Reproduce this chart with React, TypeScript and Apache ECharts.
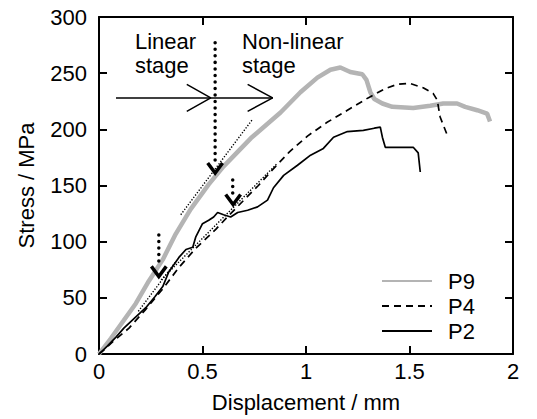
import React, { useEffect, useRef } from "react";
import * as echarts from "echarts";

const xTicks = [0, 0.5, 1, 1.5, 2];
const yTicks = [0, 50, 100, 150, 200, 250, 300];
const seriesNames = ["P9", "P4", "P2"];

// Displacement (mm), Stress (MPa)
const p9: number[][] = [
  [0, 0], [0.058, 14], [0.12, 30], [0.178, 45], [0.241, 65], [0.308, 84], [0.371, 107],
  [0.443, 129], [0.53, 151], [0.602, 167], [0.733, 192], [0.877, 215], [0.973, 233],
  [1.055, 246], [1.118, 253], [1.166, 255], [1.214, 251], [1.272, 249], [1.292, 244],
  [1.311, 233], [1.33, 227], [1.369, 223], [1.417, 220], [1.518, 219], [1.6, 221],
  [1.663, 223], [1.73, 223], [1.769, 220], [1.827, 217], [1.875, 214], [1.889, 207],
];

const p4: number[][] = [
  [0, 0], [0.02, 3], [0.067, 11], [0.145, 23], [0.227, 40], [0.308, 58], [0.386, 77],
  [0.467, 94], [0.564, 111], [0.636, 125], [0.7, 137], [0.77, 150], [0.843, 165],
  [0.92, 180], [1.007, 194], [1.1, 206], [1.2, 217], [1.3, 228], [1.38, 236], [1.44, 240],
  [1.5, 241], [1.566, 237], [1.614, 232], [1.634, 226], [1.648, 211], [1.682, 195],
];

const p2: number[][] = [
  [0, 0], [0.04, 7], [0.082, 15], [0.12, 23], [0.178, 33], [0.23, 42], [0.27, 51],
  [0.308, 60], [0.337, 73], [0.386, 86], [0.42, 93], [0.453, 95], [0.467, 104],
  [0.5, 116], [0.53, 119], [0.554, 122], [0.573, 126], [0.602, 124], [0.636, 122],
  [0.67, 126], [0.718, 128], [0.766, 131], [0.814, 137], [0.843, 148], [0.892, 159],
  [0.959, 168], [1.022, 177], [1.084, 183], [1.133, 193], [1.2, 198], [1.277, 199],
  [1.33, 201], [1.359, 202], [1.369, 193], [1.383, 184], [1.441, 184], [1.518, 184],
  [1.542, 179], [1.552, 162],
];

// Annotations (data coordinates)
const fitLines: number[][][] = [
  [[0.395, 124], [0.742, 209]],
  [[0.3, 66], [0.863, 170]],
  [[0.19, 38], [0.37, 82]],
];
const stageArrow: number[][] = [[0.082, 228], [0.839, 228]];
const stageArrowHeads: number[][][] = [
  [[0.424, 240], [0.54, 228], [0.424, 216]],
  [[0.718, 240], [0.839, 228], [0.718, 216]],
];
const dotShafts: number[][][] = [
  [[0.561, 277], [0.561, 168]],
  [[0.646, 155], [0.646, 143]],
  [[0.289, 106], [0.289, 80]],
];
const dotHeads: number[][][] = [
  [[0.525, 170], [0.561, 161], [0.597, 170]],
  [[0.612, 142], [0.648, 133], [0.684, 142]],
  [[0.253, 78], [0.289, 69], [0.325, 78]],
];

const FONT = "'Liberation Sans', Arial, Helvetica, sans-serif";
const FS = 22;

export default function App() {
  const ref = useRef<HTMLDivElement>(null);
  useEffect(() => {
    document.body.style.margin = "0";
    if (!ref.current) return;
    const chart = echarts.init(ref.current, undefined, { renderer: "svg" });
    const axisLine = { show: true, onZero: false, lineStyle: { color: "#000", width: 2 } };
    const axisTick = { show: true, inside: true, length: 8, lineStyle: { color: "#000", width: 2 } };
    const xBase = {
      type: "value" as const,
      min: xTicks[0],
      max: xTicks[xTicks.length - 1],
      interval: xTicks[1] - xTicks[0],
      axisLine,
      axisTick,
      splitLine: { show: false },
    };
    const yBase = {
      type: "value" as const,
      min: yTicks[0],
      max: yTicks[yTicks.length - 1],
      interval: yTicks[1] - yTicks[0],
      axisLine,
      axisTick,
      splitLine: { show: false },
    };
    const annot = (data: number[][], lineStyle: any) => ({
      type: "line",
      data,
      symbol: "none",
      silent: true,
      z: 5,
      lineStyle,
    });
    const series: any[] = [
      {
        name: seriesNames[0], type: "line", data: p9, symbol: "none",
        lineStyle: { color: "#b4b4b4", width: 4.5 }, itemStyle: { color: "#b4b4b4" }, z: 2,
      },
      {
        name: seriesNames[1], type: "line", data: p4, symbol: "none",
        lineStyle: { color: "#000", width: 1.7, type: [7, 5] }, itemStyle: { color: "#000" }, z: 3,
      },
      {
        name: seriesNames[2], type: "line", data: p2, symbol: "none",
        lineStyle: { color: "#000", width: 1.7 }, itemStyle: { color: "#000" }, z: 3,
      },
    ];
    fitLines.forEach((d) => series.push(annot(d, { color: "#000", width: 1.4, type: [1.3, 1.7] })));
    series.push(annot(stageArrow, { color: "#000", width: 1.5 }));
    stageArrowHeads.forEach((d) => series.push(annot(d, { color: "#000", width: 1.5 })));
    dotShafts.forEach((d) =>
      series.push(annot(d, { color: "#000", width: 3.5, type: [0.01, 6.5], cap: "round" }))
    );
    dotHeads.forEach((d) => series.push(annot(d, { color: "#000", width: 3.5, join: "miter" })));

    chart.setOption({
      animation: false,
      textStyle: { fontFamily: FONT },
      grid: { left: 99, right: 24, top: 17, bottom: 65 },
      legend: {
        data: seriesNames,
        orient: "vertical",
        left: 376,
        top: 265,
        itemWidth: 50,
        itemHeight: 14,
        itemGap: 3,
        itemStyle: { color: "transparent", borderColor: "transparent", borderWidth: 0 },
        textStyle: { fontSize: FS, color: "#000", fontFamily: FONT, padding: [0, 0, 0, 11] },
      },
      xAxis: [
        {
          ...xBase,
          position: "bottom",
          axisLabel: { fontSize: FS, color: "#000", margin: 6, fontFamily: FONT },
          name: "Displacement / mm",
          nameLocation: "middle",
          nameGap: 37,
          nameTextStyle: { fontSize: FS, color: "#000", fontFamily: FONT },
        },
        { ...xBase, position: "top", axisLabel: { show: false } },
      ],
      yAxis: [
        {
          ...yBase,
          position: "left",
          axisLabel: { fontSize: FS, color: "#000", margin: 12, fontFamily: FONT },
          name: "Stress / MPa",
          nameLocation: "middle",
          nameGap: 62,
          nameTextStyle: { fontSize: FS, color: "#000", fontFamily: FONT },
        },
        { ...yBase, position: "right", axisLabel: { show: false } },
      ],
      graphic: [
        {
          type: "text", left: 135, top: 29, silent: true,
          style: { text: "Linear\nstage", fontSize: FS, lineHeight: 24, fill: "#000", fontFamily: FONT },
        },
        {
          type: "text", left: 242, top: 29, silent: true,
          style: { text: "Non-linear\nstage", fontSize: FS, lineHeight: 24, fill: "#000", fontFamily: FONT },
        },
      ],
      series,
    });
    return () => chart.dispose();
  }, []);
  return <div ref={ref} style={{ width: 537, height: 419 }} />;
}
